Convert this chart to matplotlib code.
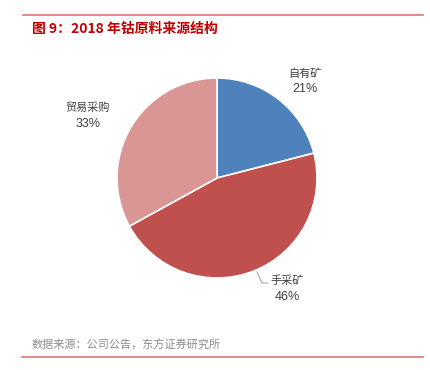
import matplotlib
matplotlib.use('Agg')
import matplotlib.pyplot as plt

plt.rcParams['font.family'] = ['Noto Sans CJK SC', 'DejaVu Sans']

labels = ['自有矿', '手采矿', '贸易采购']
shares = [21, 46, 33]
colors = ['#4F81BD', '#C0504D', '#D99694']

fig = plt.figure(figsize=(4.31, 3.70), dpi=100)

# header / footer rules
fig.add_artist(plt.Line2D([23 / 431, 423 / 431], [1 - 15 / 370, 1 - 15 / 370], color='#E57373', lw=1.2))
fig.add_artist(plt.Line2D([22 / 431, 423 / 431], [1 - 357 / 370, 1 - 357 / 370], color='#E57373', lw=1.2))
fig.text(32 / 431, 1 - 29 / 370, '图 9：2018 年钴原料来源结构', color='#C00000',
         fontsize=10, fontweight='bold', va='center', ha='left')
fig.text(32 / 431, 1 - 345 / 370, '数据来源：公司公告，东方证券研究所', color='#8C8C8C',
         fontsize=8, va='center', ha='left')

ax = fig.add_axes([67 / 431, 42 / 370, 300 / 431, 300 / 370])
ax.pie(shares, colors=colors, startangle=90, counterclock=False, radius=1,
       wedgeprops=dict(edgecolor='white', linewidth=1.2))
ax.set_xlim(-1.5, 1.5)
ax.set_ylim(-1.5, 1.5)
ax.set_aspect('equal')
ax.axis('off')

label_pos = [(0.88, 1.04), (0.70, -1.03), (-1.29, 0.70)]
for name, val, (lx, ly) in zip(labels, shares, label_pos):
    ax.text(lx, ly, name, ha='center', va='center', fontsize=8, color='#404040')
    ax.text(lx, ly - 0.155, f'{val}%', ha='center', va='center', fontsize=9,
            color='#404040', family='Liberation Sans')

# leader line for 手采矿
ax.plot([0.40, 0.45, 0.51], [-0.94, -1.05, -1.05], color='#A6A6A6', lw=0.8)

fig.savefig('out.png', dpi=100)
